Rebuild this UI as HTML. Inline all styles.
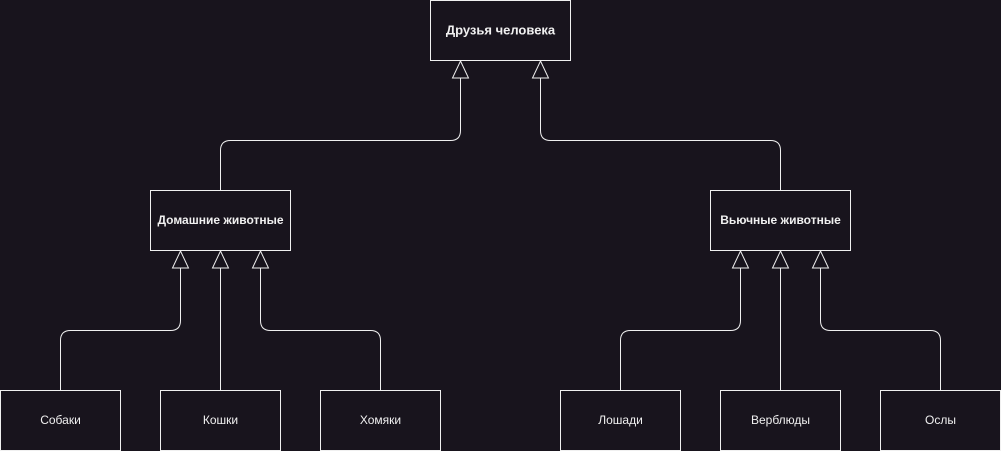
<!DOCTYPE html>
<html><head><meta charset="utf-8"><style>
html,body{margin:0;padding:0;background:#18141d;}
svg{display:block;}
text{font-family:"Liberation Sans",sans-serif;fill:#f0f0f0;font-size:12px;text-anchor:middle;dominant-baseline:middle;}
.b{font-weight:bold;}
</style></head><body>
<svg width="1001" height="451" viewBox="0 0 1001 451">
<g fill="none" stroke="#f0f0f0" stroke-width="1">
<rect x="430.5" y="0.5" width="140" height="60" fill="#18141d"/>
<rect x="150.5" y="190.5" width="140" height="60" fill="#18141d"/>
<rect x="710.5" y="190.5" width="140" height="60" fill="#18141d"/>
<rect x="0.5" y="390.5" width="120" height="60"/>
<rect x="160.5" y="390.5" width="120" height="60"/>
<rect x="320.5" y="390.5" width="120" height="60"/>
<rect x="560.5" y="390.5" width="120" height="60"/>
<rect x="720.5" y="390.5" width="120" height="60"/>
<rect x="880.5" y="390.5" width="120" height="60"/>
<!-- connectors -->
<path d="M220.5 190 V150.5 Q220.5 140.5 230.5 140.5 H450.5 Q460.5 140.5 460.5 130.5 V78"/>
<path d="M780.5 190 V150.5 Q780.5 140.5 770.5 140.5 H550.5 Q540.5 140.5 540.5 130.5 V78"/>
<path d="M60.5 390 V340.5 Q60.5 330.5 70.5 330.5 H170.5 Q180.5 330.5 180.5 320.5 V268"/>
<path d="M220.5 390 V268"/>
<path d="M380.5 390 V340.5 Q380.5 330.5 370.5 330.5 H270.5 Q260.5 330.5 260.5 320.5 V268"/>
<path d="M620.5 390 V340.5 Q620.5 330.5 630.5 330.5 H730.5 Q740.5 330.5 740.5 320.5 V268"/>
<path d="M780.5 390 V268"/>
<path d="M940.5 390 V340.5 Q940.5 330.5 930.5 330.5 H830.5 Q820.5 330.5 820.5 320.5 V268"/>
<!-- arrowheads -->
<path d="M460.5 61 L468.5 78 L452.5 78 Z"/>
<path d="M540.5 61 L548.5 78 L532.5 78 Z"/>
<path d="M180.5 251 L188.5 268 L172.5 268 Z"/>
<path d="M220.5 251 L228.5 268 L212.5 268 Z"/>
<path d="M260.5 251 L268.5 268 L252.5 268 Z"/>
<path d="M740.5 251 L748.5 268 L732.5 268 Z"/>
<path d="M780.5 251 L788.5 268 L772.5 268 Z"/>
<path d="M820.5 251 L828.5 268 L812.5 268 Z"/>
</g>
<text x="500.5" y="31" class="b" style="font-size:13px">Друзья человека</text>
<text x="220.5" y="221" class="b">Домашние животные</text>
<text x="780.5" y="221" class="b">Вьючные животные</text>
<text x="60.5" y="421">Собаки</text>
<text x="220.5" y="421">Кошки</text>
<text x="380.5" y="421">Хомяки</text>
<text x="620.5" y="421">Лошади</text>
<text x="780.5" y="421">Верблюды</text>
<text x="940.5" y="421">Ослы</text>
</svg>
</body></html>
